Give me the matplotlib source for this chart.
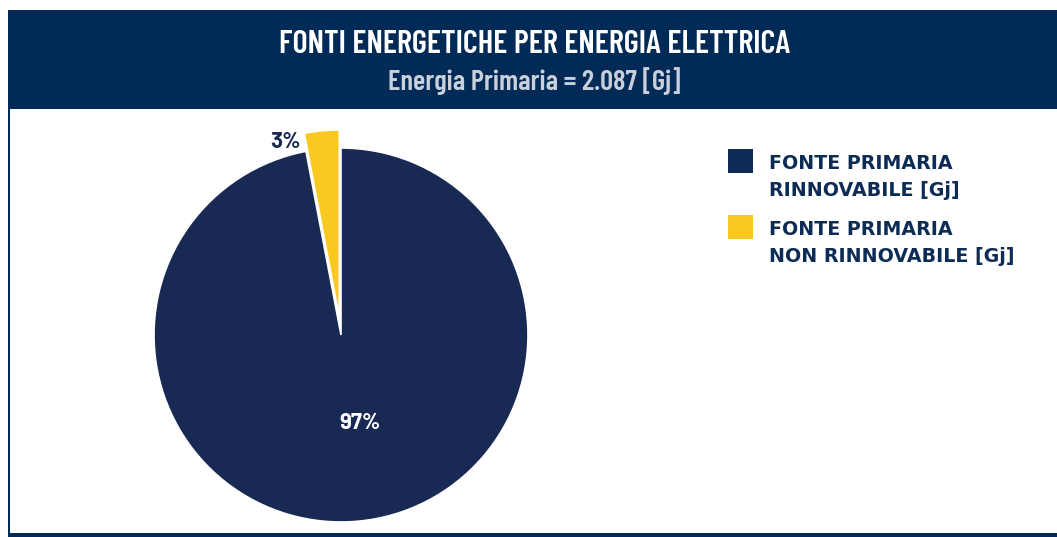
import matplotlib
matplotlib.use("Agg")
import matplotlib.pyplot as plt
from matplotlib.patches import Rectangle

# ---- data ----
categories = ["FONTE PRIMARIA\nRINNOVABILE [Gj]", "FONTE PRIMARIA\nNON RINNOVABILE [Gj]"]
values = [97, 3]
pct_labels = ["97%", "3%"]
title = "FONTI ENERGETICHE PER ENERGIA ELETTRICA"
subtitle = "Energia Primaria = 2.087 [Gj]"

NAVY_HEAD = "#012b56"
NAVY_PIE = "#182953"
YELLOW = "#f9c91f"
SUB_COL = "#c9d0db"

W, H = 1057, 537
fig = plt.figure(figsize=(W / 100, H / 100), dpi=100)
bg = fig.add_axes([0, 0, 1, 1])
bg.set_xlim(0, W)
bg.set_ylim(H, 0)
bg.axis("off")

# header band and border
bg.add_patch(Rectangle((7.5, 9.5), W - 7.5, 99.5, color=NAVY_HEAD, lw=0))
bg.add_patch(Rectangle((7.5, 109), 2.5, H - 109, color=NAVY_HEAD, lw=0))
bg.add_patch(Rectangle((7.5, 533), W - 7.5, 4, color=NAVY_HEAD, lw=0))

tfont = ["Barlow Condensed", "DejaVu Sans"]
bg.text(534.5, 53, title, color="white", fontsize=23.4, fontweight=600,
        family=tfont, ha="center", va="baseline")
bg.text(534.5, 90, subtitle, color=SUB_COL, fontsize=20.6, fontweight=600,
        family=tfont, ha="center", va="baseline")

# legend
lfont = ["DejaVu Sans"]
leg_y = [149, 215]
for i, (lab, col) in enumerate(zip(categories, ["#0c2b55", YELLOW])):
    bg.add_patch(Rectangle((728, leg_y[i]), 25, 24, color=col, lw=0))
    l1, l2 = lab.split("\n")
    bg.text(769, leg_y[i] + 20, l1, color="#0c2b55", fontsize=13.7, fontweight="bold",
            family=lfont, ha="left", va="baseline")
    bg.text(769, leg_y[i] + 47, l2, color="#0c2b55", fontsize=13.7, fontweight="bold",
            family=lfont, ha="left", va="baseline")

# pie
pfont = ["Barlow", "DejaVu Sans"]
cx, cy, r = 341, 335, 187
ax = fig.add_axes([(cx - r) / W, (H - cy - r) / H, 2 * r / W, 2 * r / H])
wedges, _ = ax.pie(values, colors=[NAVY_PIE, YELLOW], startangle=90, counterclock=False,
                   explode=[0, 0.097], wedgeprops=dict(edgecolor="white", linewidth=1.2))
for w in wedges:
    w.set_clip_on(False)
ax.set_xlim(-1, 1)
ax.set_ylim(-1, 1)
ax.axis("off")
ax.text(0.10, -0.47, pct_labels[0], color="white", fontsize=16, fontweight="bold",
        family=pfont, ha="center", va="center")
ax.text(-0.295, 1.03, pct_labels[1], color=NAVY_PIE, fontsize=16, fontweight="bold",
        family=pfont, ha="center", va="center")

fig.savefig("out.png", dpi=100)
